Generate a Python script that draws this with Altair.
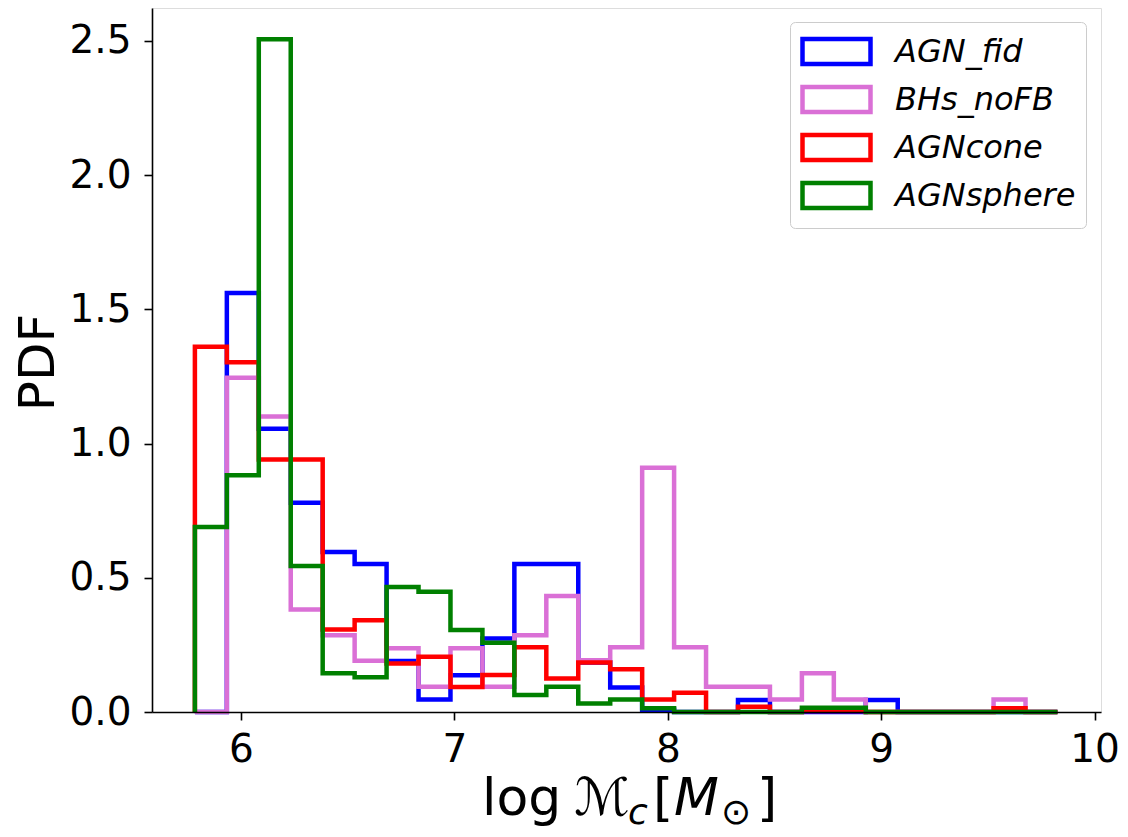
import altair as alt
import numpy as np
import pandas as pd

# ---- data ----
series = ["AGN_fid", "BHs_noFB", "AGNcone", "AGNsphere"]
colors = ["#0000ff", "#da70d6", "#ff0000", "#008000"]

edge_lo = 5.784
edge_hi = 9.826
n_bins = 27

agn_fid = [0.0, 1.561, 1.055, 0.779, 0.596, 0.551, 0.19, 0.047, 0.137, 0.274,
           0.551, 0.551, 0.184, 0.091, 0.008, 0.0, 0.0, 0.045, 0.0, 0.0,
           0.0, 0.045, 0.0, 0.0, 0.0, 0.0, 0.0]
bhs_nofb = [0.0, 1.245, 1.101, 0.382, 0.286, 0.191, 0.237, 0.094, 0.237, 0.094,
            0.286, 0.432, 0.193, 0.241, 0.910, 0.241, 0.094, 0.094, 0.047, 0.144,
            0.047, 0.0, 0.0, 0.0, 0.0, 0.047, 0.0]
agn_cone = [1.36, 1.303, 0.94, 0.94, 0.307, 0.342, 0.181, 0.206, 0.093, 0.138,
            0.241, 0.125, 0.184, 0.159, 0.047, 0.072, 0.0, 0.02, 0.0, 0.004,
            0.004, 0.0, 0.0, 0.0, 0.0, 0.014, 0.0]
agn_sphere = [0.689, 0.882, 2.506, 0.544, 0.144, 0.129, 0.466, 0.448, 0.305, 0.258,
              0.063, 0.094, 0.032, 0.047, 0.014, 0.0, 0.0, 0.0, 0.0, 0.016,
              0.016, 0.0, 0.0, 0.0, 0.0, 0.0, 0.0]

x_ticks = [6, 7, 8, 9, 10]
y_ticks = [0.0, 0.5, 1.0, 1.5, 2.0, 2.5]

# ---- build step outlines (matplotlib histtype='step') ----
edges = np.linspace(edge_lo, edge_hi, n_bins + 1)
rows = []
for name, vals in zip(series, [agn_fid, bhs_nofb, agn_cone, agn_sphere]):
    xs = [edges[0]] + list(edges[:-1]) + [edges[-1]]
    ys = [0.0] + list(vals) + [0.0]
    for i, (xv, yv) in enumerate(zip(xs, ys)):
        rows.append({"series": name, "x": float(xv), "y": float(yv), "i": i})
df = pd.DataFrame(rows)

FONT = "DejaVu Sans"

x_enc = alt.X("x:Q",
              scale=alt.Scale(domain=[5.583, 10.03], nice=False, zero=False),
              axis=alt.Axis(values=x_ticks, format="d", title=None,
                            labelFontSize=39, labelFont=FONT, labelColor="black",
                            labelPadding=10, tickSize=8, tickWidth=1.6,
                            tickColor="black", domainColor="black", domainWidth=1.6,
                            grid=False, zindex=1, labelFlush=False))
y_enc = alt.Y("y:Q",
              scale=alt.Scale(domain=[0, 2.622], nice=False, zero=True),
              axis=alt.Axis(values=y_ticks, format=".1f", title="PDF",
                            titleFontSize=50, titleFont=FONT, titleFontWeight="normal",
                            titleColor="black", titleX=-114, titleY=354,
                            titleAngle=270, titleAlign="center", titleBaseline="middle",
                            labelFontSize=39, labelFont=FONT, labelColor="black",
                            labelPadding=13, tickSize=8, tickWidth=1.6,
                            tickColor="black", domainColor="black", domainWidth=1.6,
                            grid=False, zindex=1, labelFlush=False))
color_enc = alt.Color("series:N",
                      scale=alt.Scale(domain=series, range=colors),
                      legend=alt.Legend(title=None, orient="none",
                                        legendX=638, legendY=14,
                                        symbolType="M-1,-0.74H3V0.74H-1Z",
                                        symbolSize=1156, symbolStrokeWidth=4.5,
                                        symbolFillColor="transparent",
                                        labelFontSize=32, labelFont=FONT,
                                        labelFontStyle="italic", labelColor="black",
                                        labelOffset=56, rowPadding=3, padding=10,
                                        strokeColor="#cccccc", fillColor="white",
                                        cornerRadius=5, labelLimit=400))

layers = []
for name in series:
    layers.append(
        alt.Chart(df).transform_filter(alt.datum.series == name)
        .mark_line(interpolate="step-after", strokeWidth=4.5, strokeJoin="miter",
                   strokeCap="butt")
        .encode(x=x_enc, y=y_enc, color=color_enc, order="i:Q")
    )

# x-axis title: log M_c [M_sun], built from text pieces
one = pd.DataFrame({"a": [0]})
def piece(txt, x, y, size, style="normal"):
    return alt.Chart(one).mark_text(text=txt, font=FONT, fontSize=size,
                                    fontStyle=style, align="left",
                                    baseline="alphabetic", color="black"
                                    ).encode(x=alt.value(x), y=alt.value(y))

ox, oy = 152, 8
base_y = 815 - oy
sub_y = base_y + 9
title_parts = [
    piece("log", 482 - ox, base_y, 52),
    piece("\u2133", 574 - ox, base_y, 52, "italic"),
    piece("c", 628 - ox, sub_y, 36, "italic"),
    piece("[", 653 - ox, base_y, 52),
    piece("M", 674 - ox, base_y, 52, "italic"),
    piece("\u2299", 721 - ox, sub_y, 36),
    piece("]", 757 - ox, base_y, 52),
]

chart = alt.layer(*layers, *title_parts).properties(
    width=949, height=704,
    padding={"left": 144, "top": 0, "right": 19, "bottom": 125},
    autosize=alt.AutoSizeParams(type="none"),
).configure_view(stroke="black", strokeWidth=1.6).configure(background="white")

chart.save("out.html", embed_options={"renderer": "svg", "actions": False})
